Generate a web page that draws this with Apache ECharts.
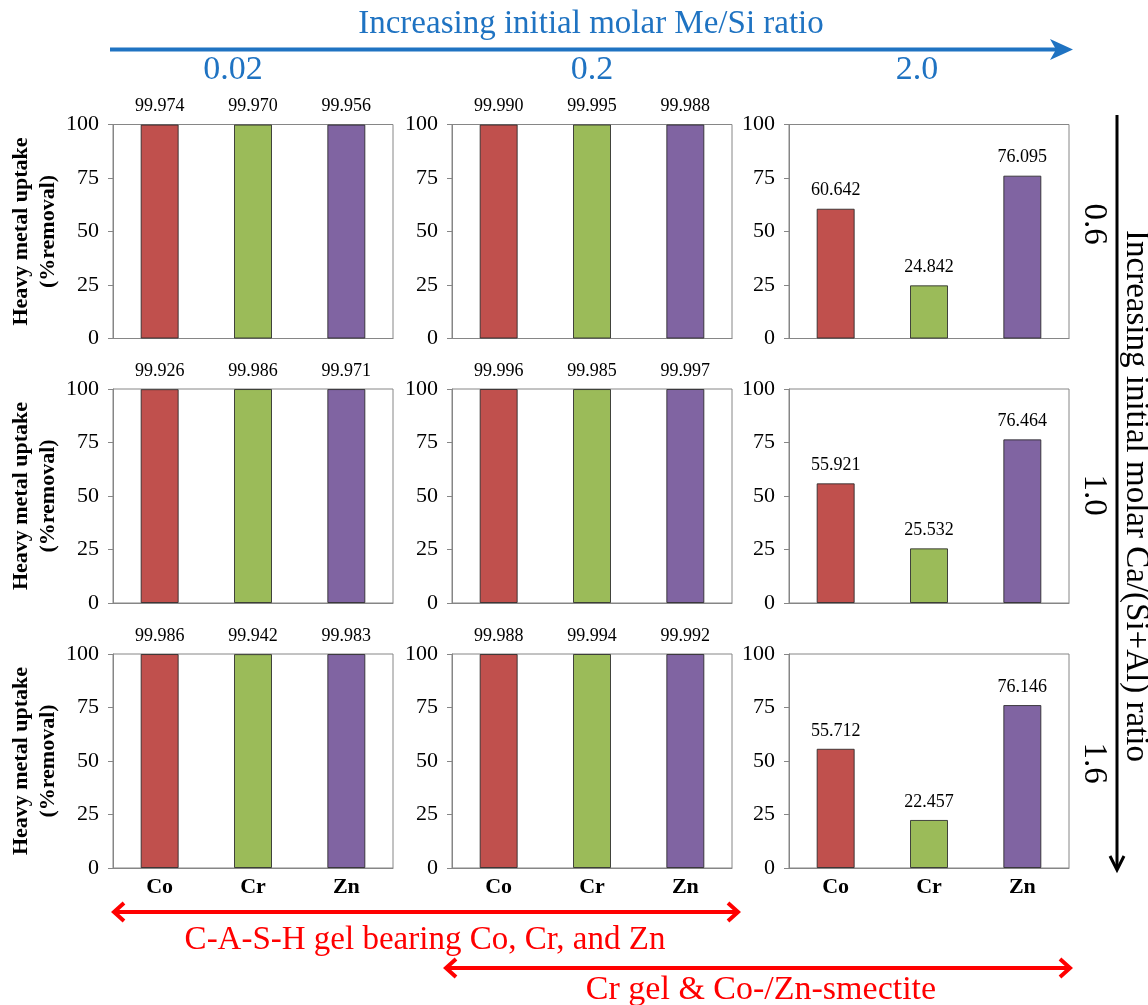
<!DOCTYPE html>
<html>
<head>
<meta charset="utf-8">
<script src="https://cdn.jsdelivr.net/npm/echarts@6/dist/echarts.min.js"></script>
<style>
html,body{margin:0;padding:0;background:#fff;}
#chart{width:1148px;height:1005px;}
</style>
</head>
<body>
<div id="chart"></div>
<script>
// ---- data ----
const categories = ['Co', 'Cr', 'Zn'];
const meSiRatios = ['0.02', '0.2', '2.0'];          // columns
const caRatios = ['0.6', '1.0', '1.6'];             // rows
// values per row (Ca/(Si+Al) ratio), each: [Me/Si 0.02, 0.2, 2.0] x [Co, Cr, Zn]
const ratio06 = [[99.974, 99.970, 99.956], [99.990, 99.995, 99.988], [60.642, 24.842, 76.095]];
const ratio10 = [[99.926, 99.986, 99.971], [99.996, 99.985, 99.997], [55.921, 25.532, 76.464]];
const ratio16 = [[99.986, 99.942, 99.983], [99.988, 99.994, 99.992], [55.712, 22.457, 76.146]];
const yTicks = [0, 25, 50, 75, 100];
const topTitle = 'Increasing initial molar Me/Si ratio';
const rightTitle = 'Increasing initial molar Ca/(Si+Al) ratio';
const band1 = 'C-A-S-H gel bearing Co, Cr, and Zn';
const band2 = 'Cr gel & Co-/Zn-smectite';
const yName = 'Heavy metal uptake\n(%removal)';

const rows = [ratio06, ratio10, ratio16];
const barColors = ['#C0504D', '#9BBB59', '#8064A2'];
const serif = '"Liberation Serif", "Times New Roman", serif';
const axisGrey = '#868686';

const colLeft = [113, 452, 789];
const rowTop = [124.5, 389, 654];
const gw = 280, gh = 214;

const grids = [], xAxes = [], yAxes = [], series = [];
for (let r = 0; r < 3; r++) {
  for (let c = 0; c < 3; c++) {
    const i = r * 3 + c;
    grids.push({left: colLeft[c], top: rowTop[r], width: gw, height: gh,
      show: true, borderColor: axisGrey, borderWidth: 1, backgroundColor: '#fff', containLabel: false});
    xAxes.push({type: 'category', gridIndex: i, data: categories,
      axisLine: {show: true, lineStyle: {color: axisGrey, width: 1}},
      axisTick: {show: false},
      axisLabel: {show: r === 2, color: '#000', fontFamily: serif, fontWeight: 'bold', fontSize: 22, margin: 8}
    });
    yAxes.push({type: 'value', gridIndex: i, min: yTicks[0], max: yTicks[yTicks.length - 1], interval: 25,
      axisLine: {show: true, lineStyle: {color: axisGrey, width: 1}},
      axisTick: {show: true, length: 5, lineStyle: {color: axisGrey}},
      splitLine: {show: false},
      axisLabel: {color: '#000', fontFamily: serif, fontSize: 22, margin: 14},
      name: c === 0 ? yName : '',
      nameLocation: 'middle', nameRotate: 90, nameGap: 42,
      nameTextStyle: {color: '#000', fontFamily: serif, fontWeight: 'bold', fontSize: 22, lineHeight: 27}
    });
    series.push({type: 'bar', xAxisIndex: i, yAxisIndex: i,
      data: rows[r][c].map((v, k) => ({value: v, itemStyle: {color: barColors[k]}})),
      barWidth: 38,
      itemStyle: {borderColor: 'rgba(40,40,40,0.85)', borderWidth: 1},
      label: {show: true, position: 'top', distance: 9, color: '#000', fontFamily: serif, fontSize: 18,
        formatter: p => p.value.toFixed(3)},
      animation: false
    });
  }
}

const blue = '#1F73C2';
const red = '#FF0000';
function vtext(txt, x, y, size) {
  return {type: 'text', x: x, y: y, rotation: -Math.PI / 2,
    style: {text: txt, x: 0, y: 0, fill: '#000', font: size + 'px ' + serif, align: 'center', verticalAlign: 'middle'}};
}
const graphic = [
  {type: 'text', style: {text: topTitle, x: 591, y: 24, fill: blue, font: '33px ' + serif, align: 'center', verticalAlign: 'middle'}},
  {type: 'line', shape: {x1: 110, y1: 49.5, x2: 1060, y2: 49.5}, style: {stroke: blue, lineWidth: 4}},
  {type: 'polygon', shape: {points: [[1073, 49.5], [1050, 39], [1056, 49.5], [1050, 60]]}, style: {fill: blue}},
  {type: 'text', style: {text: meSiRatios[0], x: 233, y: 70, fill: blue, font: '34px ' + serif, align: 'center', verticalAlign: 'middle'}},
  {type: 'text', style: {text: meSiRatios[1], x: 592, y: 70, fill: blue, font: '34px ' + serif, align: 'center', verticalAlign: 'middle'}},
  {type: 'text', style: {text: meSiRatios[2], x: 917, y: 70, fill: blue, font: '34px ' + serif, align: 'center', verticalAlign: 'middle'}},
  // right side
  vtext(caRatios[0], 1094, 224, 33),
  vtext(caRatios[1], 1094, 495, 33),
  vtext(caRatios[2], 1094, 763, 33),
  {type: 'line', shape: {x1: 1117, y1: 115, x2: 1117, y2: 868}, style: {stroke: '#000', lineWidth: 3}},
  {type: 'polyline', shape: {points: [[1110, 856], [1117, 870], [1124, 856]]}, style: {stroke: '#000', lineWidth: 3, fill: null}},
  vtext(rightTitle, 1136, 496, 33),
  // bottom red arrows
  {type: 'line', shape: {x1: 114, y1: 912, x2: 738, y2: 912}, style: {stroke: red, lineWidth: 4}},
  {type: 'polyline', shape: {points: [[124, 903], [114, 912], [124, 921]]}, style: {stroke: red, lineWidth: 4, fill: null}},
  {type: 'polyline', shape: {points: [[728, 903], [738, 912], [728, 921]]}, style: {stroke: red, lineWidth: 4, fill: null}},
  {type: 'text', style: {text: band1, x: 425, y: 940, fill: red, font: '33px ' + serif, align: 'center', verticalAlign: 'middle'}},
  {type: 'line', shape: {x1: 446, y1: 968, x2: 1070, y2: 968}, style: {stroke: red, lineWidth: 4}},
  {type: 'polyline', shape: {points: [[456, 959], [446, 968], [456, 977]]}, style: {stroke: red, lineWidth: 4, fill: null}},
  {type: 'polyline', shape: {points: [[1060, 959], [1070, 968], [1060, 977]]}, style: {stroke: red, lineWidth: 4, fill: null}},
  {type: 'text', style: {text: band2, x: 761, y: 990, fill: red, font: '34px ' + serif, align: 'center', verticalAlign: 'middle'}}
];

const chart = echarts.init(document.getElementById('chart'), null, {renderer: 'canvas'});
chart.setOption({
  backgroundColor: '#fff',
  animation: false,
  grid: grids,
  xAxis: xAxes,
  yAxis: yAxes,
  series: series,
  graphic: graphic
});
</script>
</body>
</html>
